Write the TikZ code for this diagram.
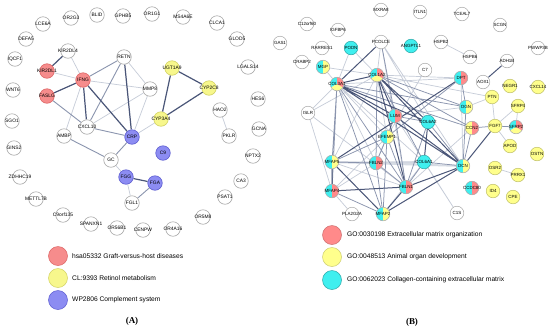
\documentclass[tikz,border=0pt]{standalone}
\usepackage{fontspec}
\setmainfont{Liberation Sans}
\newfontfamily\serifb{Liberation Serif}
\pgfdeclarelayer{back}
\pgfdeclarelayer{bg}
\pgfsetlayers{back,bg,main}
\definecolor{reA}{HTML}{F68C8C}\definecolor{reAd}{HTML}{DD6464}
\definecolor{yeA}{HTML}{F7F78C}\definecolor{yeAd}{HTML}{D2D262}
\definecolor{blA}{HTML}{8C8CF2}\definecolor{blAd}{HTML}{5C5CD0}
\definecolor{reB}{HTML}{FF8A8A}\definecolor{yeB}{HTML}{FFFF8C}
\definecolor{cyB}{HTML}{3FEFEF}
\definecolor{edD}{HTML}{4A5678}\definecolor{edM}{HTML}{8A94AE}
\definecolor{edL}{HTML}{C6CCD8}\definecolor{ringG}{HTML}{A8A8A8}
\tikzset{
  gnode/.style={circle,minimum size=14.5bp,inner sep=0pt,line width=0.6bp},
  wA/.style={gnode,draw=ringG,fill=white},
  rA/.style={gnode,draw=reAd,fill=reA},
  yA/.style={gnode,draw=yeAd,fill=yeA},
  bA/.style={gnode,draw=blAd,fill=blA},
  pb/.style={circle,minimum size=13.6bp,inner sep=0pt,line width=0.5bp,draw=ringG},
  wB/.style={pb,fill=white},
  cB/.style={pb,fill=cyB,draw=cyB!70!black},
  yB/.style={pb,fill=yeB,draw=yeB!75!black},
  lbl/.style={inner sep=0pt,font=\fontsize{4.9}{5}\selectfont},
  lblB/.style={inner sep=0pt,font=\fontsize{4.5}{5}\selectfont},
  ed/.style={draw=edD,line width=1.2bp},
  edb/.style={draw=edD,line width=1.0bp},
  em/.style={draw=edM,line width=0.9bp},
  emb/.style={draw=edM,line width=0.75bp},
  el/.style={draw=edL,line width=0.7bp},
  legtext/.style={anchor=west,inner sep=0pt,font=\fontsize{6.7}{8}\selectfont},
  legdot/.style={circle,minimum size=19bp,inner sep=0pt,line width=0.5bp},
  panel/.style={font=\serifb\bfseries\fontsize{9}{10}\selectfont}
}
\def\pr{6.8bp}
\newcommand{\gn}[5]{\node[#5] (#1) at (#2,#3) {};\node[lbl] at (#1) {#4};}
\newcommand{\bn}[5]{\node[#5] (#1) at (#2,#3) {};\node[lblB] at (#1) {#4};}
\newcommand{\two}[6]{%
  \fill[#5] (#2,#3) ++(90:\pr) arc[start angle=90,end angle=270,radius=\pr] -- cycle;
  \fill[#6] (#2,#3) ++(-90:\pr) arc[start angle=-90,end angle=90,radius=\pr] -- cycle;
  \node[pb] (#1) at (#2,#3) {};\node[lblB] at (#1) {#4};}
\newcommand{\three}[4]{%
  \fill[cyB] (#2,#3) -- ++(90:\pr) arc[start angle=90,end angle=210,radius=\pr] -- cycle;
  \fill[yeB] (#2,#3) -- ++(210:\pr) arc[start angle=210,end angle=330,radius=\pr] -- cycle;
  \fill[reB] (#2,#3) -- ++(330:\pr) arc[start angle=330,end angle=450,radius=\pr] -- cycle;
  \node[pb] (#1) at (#2,#3) {};\node[lblB] at (#1) {#4};}
\begin{document}
\begin{tikzpicture}[x=1bp,y=-1bp]
\useasboundingbox (0,0) rectangle (550,330);
\begin{pgfonlayer}{back}
\fill[white] (0,0) rectangle (550,330);
\end{pgfonlayer}
% ---------------- Panel A nodes
\gn{LCE6A}{43}{24}{LCE6A}{wA}
\gn{OR2G3}{71}{18}{OR2G3}{wA}
\gn{BLID}{97}{15}{BLID}{wA}
\gn{GPHB5}{123}{16}{GPHB5}{wA}
\gn{OR1G1}{152}{14}{OR1G1}{wA}
\gn{MS4A6E}{183}{17}{MS4A6E}{wA}
\gn{CLCA1}{217}{23}{CLCA1}{wA}
\gn{DEFA5}{26}{39}{DEFA5}{wA}
\gn{GLOD5}{237}{39}{GLOD5}{wA}
\gn{IQCF1}{15}{59}{IQCF1}{wA}
\gn{KIR2DL4}{68}{51}{KIR2DL4}{wA}
\gn{RETN}{124}{57}{RETN}{wA}
\gn{LGALS14}{248}{67}{LGALS14}{wA}
\gn{WNT6}{13}{90}{WNT6}{wA}
\gn{MMP8}{150}{89}{MMP8}{wA}
\gn{HES6}{258}{99}{HES6}{wA}
\gn{HAO2}{220}{110}{HAO2}{wA}
\gn{CXCL10}{87}{127}{CXCL10}{wA}
\gn{AMBP}{64}{136}{AMBP}{wA}
\gn{GCNA}{259}{129}{GCNA}{wA}
\gn{PKLR}{229}{136}{PKLR}{wA}
\gn{SGO1}{12}{121}{SGO1}{wA}
\gn{GINS2}{14}{148}{GINS2}{wA}
\gn{GC}{111}{160}{GC}{wA}
\gn{NPTX2}{253}{156}{NPTX2}{wA}
\gn{ZDHHC19}{20}{177}{ZDHHC19}{wA}
\gn{CA3}{241}{181}{CA3}{wA}
\gn{METTL7B}{36}{199}{METTL7B}{wA}
\gn{FGL1}{132}{203}{FGL1}{wA}
\gn{PSAT1}{225}{197}{PSAT1}{wA}
\gn{C9orf135}{63}{215}{C9orf135}{wA}
\gn{SPANXN1}{91}{224}{SPANXN1}{wA}
\gn{OR5M8}{203}{217}{OR5M8}{wA}
\gn{OR56B1}{117}{228}{OR56B1}{wA}
\gn{CENPW}{143}{230}{CENPW}{wA}
\gn{OR4A16}{173}{229}{OR4A16}{wA}
\gn{KIR2DL1}{47}{71}{KIR2DL1}{rA}
\gn{IFNG}{83}{80}{IFNG}{rA}
\gn{FASLG}{47}{96}{FASLG}{rA}
\gn{UGT1A9}{172}{68}{UGT1A9}{yA}
\gn{CYP2C8}{209}{88}{CYP2C8}{yA}
\gn{CYP3A4}{161}{119}{CYP3A4}{yA}
\gn{CRP}{132}{137}{CRP}{bA}
\gn{C9}{163}{153}{C9}{bA}
\gn{FGG}{126}{177}{FGG}{bA}
\gn{FGA}{155}{183}{FGA}{bA}
\begin{pgfonlayer}{bg}
\draw[el] (KIR2DL4)--(IFNG) (KIR2DL1)--(IFNG) (IFNG)--(MMP8) (IFNG)--(AMBP)
  (RETN)--(MMP8) (MMP8)--(CXCL10) (MMP8)--(CRP) (CRP)--(CYP3A4) (GC)--(FGG)
  (FGG)--(FGL1) (HAO2)--(PKLR);
\draw[em] (IFNG)--(RETN) (FASLG)--(CXCL10) (RETN)--(CXCL10) (CXCL10)--(CRP)
  (CRP)--(GC) (AMBP)--(GC) (FGA)--(FGL1);
\draw[ed] (KIR2DL4)--(KIR2DL1) (FASLG)--(IFNG) (IFNG)--(CXCL10) (IFNG)--(CRP)
  (RETN)--(CRP) (FGG)--(FGA) (UGT1A9)--(CYP2C8) (UGT1A9)--(CYP3A4) (CYP2C8)--(CYP3A4);
\end{pgfonlayer}
% legend A
\node[legdot,fill=reA,draw=reAd] (LA1) at (58,256) {};
\node[legtext] (TA1) at (72,256) {hsa05332 Graft-versus-host diseases};
\node[legdot,fill=yeA,draw=yeAd] (LA2) at (58,278) {};
\node[legtext] (TA2) at (72,278) {CL:9393 Retinol metabolism};
\node[legdot,fill=blA,draw=blAd] (LA3) at (58,300) {};
\node[legtext] (TA3) at (72,300) {WP2806 Complement system};
\node[panel] (PA) at (132,321) {(A)};
% ---------------- Panel B nodes
\bn{MXRA8}{381}{10}{MXRA8}{wB}
\bn{ITLN1}{420}{12}{ITLN1}{wB}
\bn{TCEAL7}{462}{14}{TCEAL7}{wB}
\bn{SCGN}{500}{25}{SCGN}{wB}
\bn{C12orf60}{307}{24}{C12orf60}{wB}
\bn{IGFBP6}{338}{30}{IGFBP6}{wB}
\bn{GAS1}{280}{43}{GAS1}{wB}
\bn{RARRES1}{322}{48}{RARRES1}{wB}
\bn{PCOLCE}{381}{42}{PCOLCE}{wB}
\bn{HSPB2}{441}{42}{HSPB2}{wB}
\bn{PWWP3B}{538}{48}{PWWP3B}{wB}
\bn{HSPB6}{470}{57}{HSPB6}{wB}
\bn{ADH1B}{507}{61}{ADH1B}{wB}
\bn{CRABP2}{302}{62}{CRABP2}{wB}
\bn{C7}{425}{70}{C7}{wB}
\bn{AOX1}{483}{82}{AOX1}{wB}
\bn{ISLR}{308}{113}{ISLR}{wB}
\bn{PLA2G2A}{352}{214}{PLA2G2A}{wB}
\bn{C1S}{457}{213}{C1S}{wB}
\bn{PODN}{351}{48}{PODN}{cB}
\bn{ANGPTL1}{411}{46}{ANGPTL1}{cB}
\bn{COL6A2}{428}{122}{COL6A2}{cB}
\bn{COL6A1}{424}{162}{COL6A1}{cB}
\bn{NEGR1}{510}{86}{NEGR1}{yB}
\bn{CXCL14}{538}{87}{CXCL14}{yB}
\bn{PTN}{492}{97}{PTN}{yB}
\bn{SFRP4}{518}{106}{SFRP4}{yB}
\bn{FGF7}{495}{126}{FGF7}{yB}
\bn{APOD}{510}{146}{APOD}{yB}
\bn{OSTN}{537}{154}{OSTN}{yB}
\bn{OSR2}{495}{168}{OSR2}{yB}
\bn{PRRX1}{518}{175}{PRRX1}{yB}
\bn{ID4}{493}{191}{ID4}{yB}
\bn{CPE}{513}{197}{CPE}{yB}
\two{MGP}{323}{67}{MGP}{cyB}{yeB}
\two{OGN}{466}{107}{OGN}{cyB}{yeB}
\two{EFEMP1}{387}{137}{EFEMP1}{cyB}{yeB}
\two{MFAP5}{332}{162}{MFAP5}{cyB}{yeB}
\two{DCN}{463}{166}{DCN}{cyB}{yeB}
\two{MFAP2}{383}{214}{MFAP2}{cyB}{yeB}
\two{DPT}{461}{78}{DPT}{cyB}{reB}
\two{LUM}{395}{116}{LUM}{cyB}{reB}
\two{FBLN2}{376}{163}{FBLN2}{cyB}{reB}
\two{MFAP4}{332}{191}{MFAP4}{cyB}{reB}
\two{FBLN1}{406}{187}{FBLN1}{cyB}{reB}
\two{CCDC80}{472}{188}{CCDC80}{cyB}{reB}
\two{CCN2}{472}{128}{CCN2}{yeB}{reB}
\three{COL1A2}{377}{75}{COL1A2}
\three{COL3A1}{337}{84}{COL3A1}
\three{SFRP2}{516}{127}{SFRP2}
\begin{pgfonlayer}{bg}
\draw[el] (HSPB2)--(HSPB6) (PCOLCE)--(COL1A2) (PCOLCE)--(COL6A2) (PCOLCE)--(DCN)
  (PCOLCE)--(FBLN1) (C7)--(EFEMP1) (ISLR)--(COL3A1) (ISLR)--(COL1A2) (ISLR)--(MFAP4)
  (ISLR)--(FBLN1) (PLA2G2A)--(MFAP4) (C1S)--(COL6A1) (C1S)--(LUM) (MGP)--(COL3A1)
  (MGP)--(COL1A2) (PODN)--(COL3A1) (PODN)--(COL1A2) (DPT)--(COL3A1) (DPT)--(COL1A2)
  (PTN)--(COL1A2) (PTN)--(FGF7) (PTN)--(OGN) (FGF7)--(SFRP4) (FGF7)--(APOD)
  (SFRP4)--(SFRP2) (OSR2)--(PRRX1) (COL1A2)--(MFAP5) (COL3A1)--(EFEMP1)
  (COL6A1)--(MFAP5) (COL6A1)--(MFAP2) (LUM)--(FBLN2) (EFEMP1)--(MFAP4)
  (MFAP5)--(MFAP4) (MFAP4)--(FBLN2) (COL3A1)--(COL6A1) (OGN)--(LUM) (CCN2)--(FBLN1)
  (DPT)--(DCN) (COL1A2)--(EFEMP1) (COL3A1)--(FBLN2) (MFAP5)--(FBLN1);
\draw[edL,line width=2bp,opacity=0.7] (FBLN2)--(COL6A1) (MFAP5)--(DCN);
\draw[emb] (PCOLCE)--(LUM) (COL3A1)--(FBLN1) (EFEMP1)--(FBLN2) (DPT)--(OGN)
  (DPT)--(EFEMP1) (OGN)--(COL1A2) (OGN)--(COL3A1) (OGN)--(DCN) (FGF7)--(SFRP2)
  (FGF7)--(CCN2) (CCN2)--(COL1A2) (CCN2)--(COL3A1) (CCN2)--(DCN) (COL6A2)--(DCN)
  (COL6A2)--(FBLN1) (COL6A2)--(LUM) (COL6A1)--(DCN) (COL6A1)--(FBLN1) (LUM)--(FBLN1)
  (LUM)--(EFEMP1) (EFEMP1)--(MFAP5) (EFEMP1)--(MFAP2) (EFEMP1)--(FBLN1)
  (MFAP5)--(FBLN2) (MFAP4)--(MFAP2) (FBLN2)--(FBLN1) (FBLN2)--(MFAP2)
  (COL3A1)--(MFAP5) (COL3A1)--(MFAP4) (COL1A2)--(FBLN2) (COL1A2)--(COL6A1)
  (COL3A1)--(MFAP2);
\draw[edb] (COL3A1)--(COL1A2) (COL3A1)--(LUM) (COL1A2)--(LUM) (PCOLCE)--(COL3A1)
  (ADH1B)--(AOX1) (COL6A2)--(COL6A1) (FBLN1)--(MFAP2) (FBLN1)--(DCN) (MFAP2)--(DCN)
  (COL3A1)--(DCN) (COL1A2)--(DCN) (COL3A1)--(COL6A2) (COL1A2)--(COL6A2)
  (FGF7)--(DCN) (MFAP5)--(MFAP2) (MFAP4)--(FBLN1) (LUM)--(DCN) (COL1A2)--(FBLN1)
  (DPT)--(MFAP5) (MFAP5)--(MFAP4);
\end{pgfonlayer}
% legend B
\node[legdot,fill=reB,draw=reB!80!black] (LB1) at (332,235) {};
\node[legtext] (TB1) at (347,235) {GO:0030198 Extracellular matrix organization};
\node[legdot,fill=yeB,draw=yeB!80!black] (LB2) at (332,257) {};
\node[legtext] (TB2) at (347,257) {GO:0048513 Animal organ development};
\node[legdot,fill=cyB,draw=cyB!70!black] (LB3) at (332,280) {};
\node[legtext] (TB3) at (347,280) {GO:0062023 Collagen-containing extracellular matrix};
\node[panel] (PB) at (412,322) {(B)};
\end{tikzpicture}
\end{document}
